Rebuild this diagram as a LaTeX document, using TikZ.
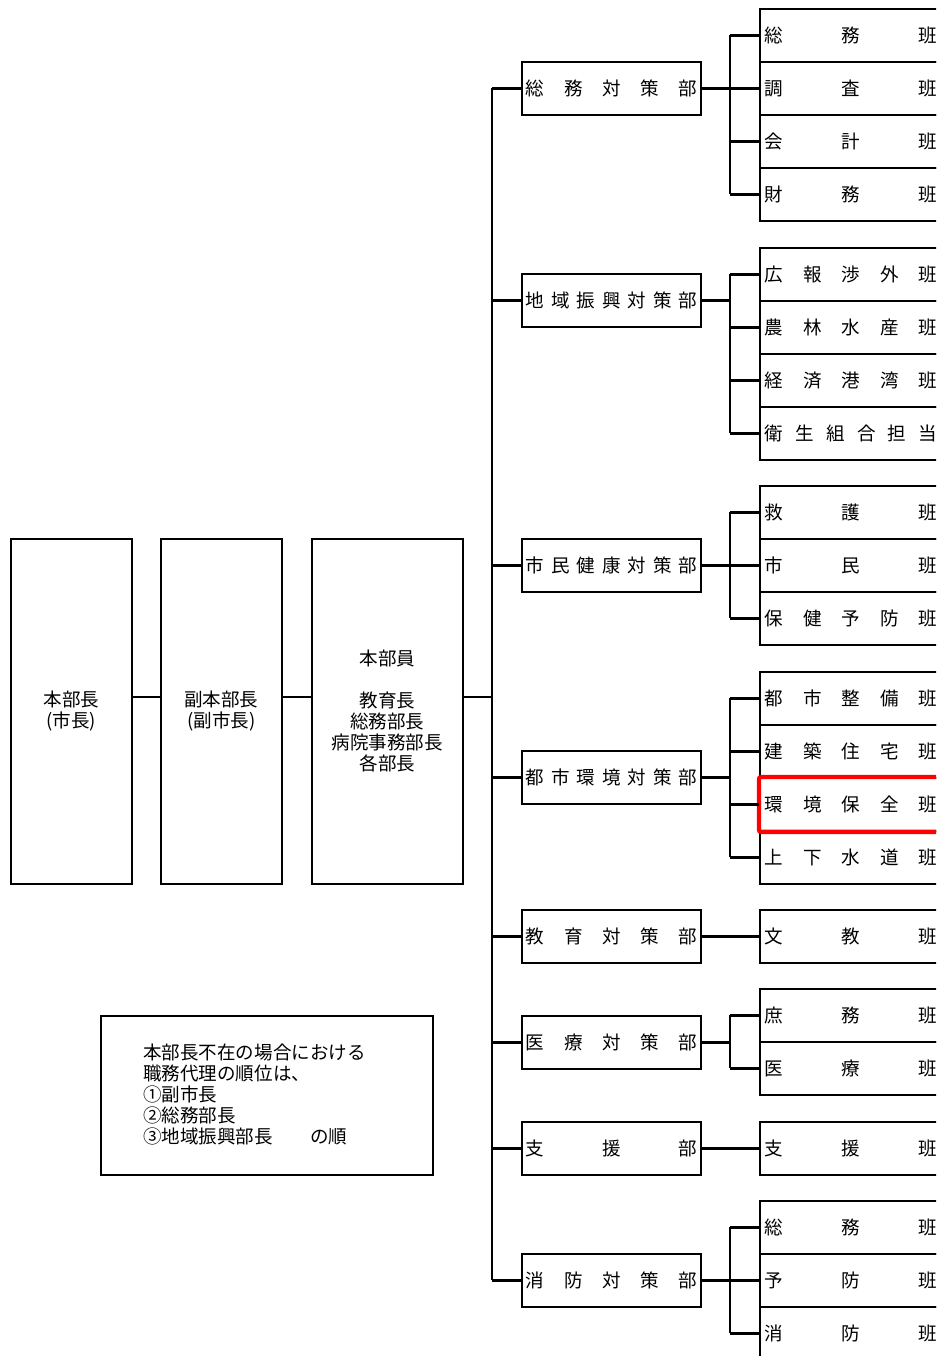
\documentclass[tikz,border=0pt]{standalone}
\usepackage{fontspec}
\setmainfont{Noto Sans CJK JP}
\newcommand\teambox[3]{\node[team] (#1) at (759,#2) {\hbox to 129pt{#3}};}
\newcommand\deptbox[3]{\node[dept] (#1) at (521,#2) {\hbox to 128.4pt{#3}};}
\begin{document}
\begin{tikzpicture}[x=0.75pt,y=-0.75pt,
  box/.style={draw,line width=1.4pt,inner sep=0pt,anchor=north west},
  dept/.style={box,minimum width=134.25pt,minimum height=39.75pt},
  team/.style={box,minimum width=136.5pt,minimum height=39.75pt},
  bigbox/.style={box,minimum height=258.75pt,align=center},
  conn/.style={line width=1.6pt},
  bus/.style={line width=1.8pt},
  font=\fontsize{13.9pt}{15.75pt}\selectfont]
\useasboundingbox (0,0) rectangle (936,1356);
\clip (0,0) rectangle (936,1356);
\fill[white] (0,0) rectangle (936,1356);

% left boxes
\node[bigbox,minimum width=90.75pt] (b1) at (10,538) {本部長\\(市長)};
\node[bigbox,minimum width=90.75pt] (b2) at (160,538) {副本部長\\(副市長)};
\node[bigbox,minimum width=113.25pt] (b3) at (311,538) {本部員\\[15.75pt]教育長\\総務部長\\病院事務部長\\各部長};

% departments
\deptbox{d1}{61}{総\hfill 務\hfill 対\hfill 策\hfill 部}
\deptbox{d2}{273}{地\hfill 域\hfill 振\hfill 興\hfill 対\hfill 策\hfill 部}
\deptbox{d3}{538}{市\hfill 民\hfill 健\hfill 康\hfill 対\hfill 策\hfill 部}
\deptbox{d4}{750}{都\hfill 市\hfill 環\hfill 境\hfill 対\hfill 策\hfill 部}
\deptbox{d5}{909}{教\hfill 育\hfill 対\hfill 策\hfill 部}
\deptbox{d6}{1015}{医\hfill 療\hfill 対\hfill 策\hfill 部}
\deptbox{d7}{1121}{支\hfill 援\hfill 部}
\deptbox{d8}{1253}{消\hfill 防\hfill 対\hfill 策\hfill 部}

% teams
\teambox{t11}{8}{総\hfill 務\hfill 班}
\teambox{t12}{61}{調\hfill 査\hfill 班}
\teambox{t13}{114}{会\hfill 計\hfill 班}
\teambox{t14}{167}{財\hfill 務\hfill 班}
\teambox{t21}{247}{広\hfill 報\hfill 渉\hfill 外\hfill 班}
\teambox{t22}{300}{農\hfill 林\hfill 水\hfill 産\hfill 班}
\teambox{t23}{353}{経\hfill 済\hfill 港\hfill 湾\hfill 班}
\teambox{t24}{406}{衛\hfill 生\hfill 組\hfill 合\hfill 担\hfill 当}
\teambox{t31}{485}{救\hfill 護\hfill 班}
\teambox{t32}{538}{市\hfill 民\hfill 班}
\teambox{t33}{591}{保\hfill 健\hfill 予\hfill 防\hfill 班}
\teambox{t41}{671}{都\hfill 市\hfill 整\hfill 備\hfill 班}
\teambox{t42}{724}{建\hfill 築\hfill 住\hfill 宅\hfill 班}
\teambox{t43}{777}{環\hfill 境\hfill 保\hfill 全\hfill 班}
\teambox{t44}{830}{上\hfill 下\hfill 水\hfill 道\hfill 班}
\teambox{t51}{909}{文\hfill 教\hfill 班}
\teambox{t61}{988}{庶\hfill 務\hfill 班}
\teambox{t62}{1041}{医\hfill 療\hfill 班}
\teambox{t71}{1121}{支\hfill 援\hfill 班}
\teambox{t81}{1200}{総\hfill 務\hfill 班}
\teambox{t82}{1253}{予\hfill 防\hfill 班}
\teambox{t83}{1306}{消\hfill 防\hfill 班}

% highlight
\draw[red,line width=3.2pt,rounded corners=1.5pt] (t43.north west) rectangle (t43.south east);

% note
\node[box,minimum width=249pt,minimum height=119.25pt] (note) at (100,1015) {};
\node[anchor=west,align=left,inner sep=0pt] (notetext) at (143,1094)
  {本部長不在の場合における\\職務代理の順位は、\\①副市長\\②総務部長\\③地域振興部長　　の順};

% connectors on the left
\coordinate (jy) at (0,697);
\coordinate (busx) at (492,0);
\coordinate (sbx) at (730,0);
\draw[bus] (b1.east |- jy) -- (b2.west |- jy);
\draw[bus] (b2.east |- jy) -- (b3.west |- jy);
\draw[bus] (b3.east |- jy) -- (jy -| busx);

% main bus
\draw[bus] (d1.west -| busx) -- (d8.west -| busx);
\foreach \d in {d1,d2,d3,d4,d5,d6,d7,d8}
  \draw[conn] (\d.west -| busx) -- (\d.west);

% sub buses
\draw[conn] (t11.west -| sbx) -- (t14.west -| sbx);
\draw[conn] (d1.east) -- (d1.east -| sbx);
\draw[conn] (t21.west -| sbx) -- (t24.west -| sbx);
\draw[conn] (d2.east) -- (d2.east -| sbx);
\draw[conn] (t31.west -| sbx) -- (t33.west -| sbx);
\draw[conn] (d3.east) -- (d3.east -| sbx);
\draw[conn] (t41.west -| sbx) -- (t44.west -| sbx);
\draw[conn] (d4.east) -- (d4.east -| sbx);
\draw[conn] (d5.east) -- (t51.west);
\draw[conn] (t61.west -| sbx) -- (t62.west -| sbx);
\draw[conn] (d6.east) -- (d6.east -| sbx);
\draw[conn] (d7.east) -- (t71.west);
\draw[conn] (t81.west -| sbx) -- (t83.west -| sbx);
\draw[conn] (d8.east) -- (d8.east -| sbx);
\foreach \t in {t11,t12,t13,t14,t21,t22,t23,t24,t31,t32,t33,t41,t42,t43,t44,t61,t62,t81,t82,t83}
  \draw[conn] (\t.west -| sbx) -- (\t.west);
\end{tikzpicture}
\end{document}
